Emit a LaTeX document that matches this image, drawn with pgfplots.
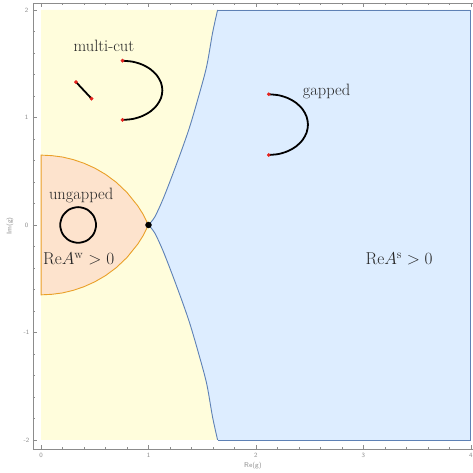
\documentclass[border=0pt]{standalone}
\usepackage{pgfplots}
\pgfplotsset{compat=1.18}
\definecolor{yfill}{RGB}{255,253,220}
\definecolor{bfill}{RGB}{221,237,255}
\definecolor{bedge}{RGB}{94,129,181}
\definecolor{ofill}{RGB}{253,227,205}
\definecolor{oedge}{RGB}{234,160,40}
\definecolor{axgray}{RGB}{140,140,140}
\definecolor{ptred}{RGB}{230,35,30}
\newcommand{\lbl}{\fontsize{16.5}{19}\selectfont}
\begin{document}
\begin{tikzpicture}
\begin{axis}[
  scale only axis, width=440bp, height=446bp,
  xmin=-0.075, xmax=4.02, ymin=-2.084, ymax=2.065,
  axis x line*=box, axis y line*=left,
  axis line style={axgray, line width=0.6pt},
  tick align=inside,
  xtick={0,1,2,3,4}, ytick={-2,-1,0,1,2},
  minor tick num=4,
  major tick length=4bp, minor tick length=2.5bp,
  every tick/.style={axgray, line width=0.5pt},
  xtick pos=both, ytick pos=left,
  /pgf/number format/assume math mode=true,
  ticklabel style={font=\fontsize{6.5}{7}\selectfont\sffamily, text=axgray},
  xticklabel pos=lower,
  xticklabel style={anchor=center, yshift=-6bp},
  yticklabel style={anchor=center, xshift=-6.5bp},
  xlabel={Re(g)}, ylabel={Im(g)},
  label style={font=\fontsize{7}{8}\selectfont\sffamily, text=axgray},
  xlabel style={at={(axis description cs:0.5,0)}, anchor=center, yshift=-17bp},
  ylabel style={at={(axis description cs:0,0.5)}, anchor=center, yshift=23bp},
  clip=false,
]
% background region
\addplot[fill=yfill, draw=none] coordinates {(0,-2) (4,-2) (4,2) (0,2)} \closedcycle;
% ungapped region Re A^w > 0
\addplot[fill=ofill, draw=oedge, line width=0.9pt] coordinates {
 (0,0.650) (0.1,0.645) (0.2,0.632) (0.3,0.608) (0.4,0.574) (0.5,0.529)
 (0.6,0.471) (0.7,0.397) (0.8,0.302) (0.9,0.178) (0.95,0.099) (1.0,0.0)
 (0.95,-0.099) (0.9,-0.178) (0.8,-0.302) (0.7,-0.397) (0.6,-0.471) (0.5,-0.529)
 (0.4,-0.574) (0.3,-0.608) (0.2,-0.632) (0.1,-0.645) (0,-0.650)} -- cycle;
% gapped region Re A^s > 0
\addplot[fill=bfill, draw=none] coordinates {
 (1.0,0) (1.058,0.074) (1.132,0.233) (1.216,0.447) (1.309,0.698) (1.383,0.912)
 (1.457,1.163) (1.54,1.47) (1.596,1.786) (1.643,2.0) (4,2) (4,-2)
 (1.643,-2.0) (1.596,-1.786) (1.54,-1.47) (1.457,-1.163) (1.383,-0.912)
 (1.309,-0.698) (1.216,-0.447) (1.132,-0.233) (1.058,-0.074)} -- cycle;
\addplot[bedge, line width=0.9pt, smooth] coordinates {
 (1.0,0) (1.058,0.074) (1.132,0.233) (1.216,0.447) (1.309,0.698) (1.383,0.912)
 (1.457,1.163) (1.54,1.47) (1.596,1.786) (1.643,2.0)};
\addplot[bedge, line width=0.9pt, smooth] coordinates {
 (1.0,0) (1.058,-0.074) (1.132,-0.233) (1.216,-0.447) (1.309,-0.698) (1.383,-0.912)
 (1.457,-1.163) (1.54,-1.47) (1.596,-1.786) (1.643,-2.0)};
\addplot[bedge, line width=0.9pt] coordinates {(1.643,2) (4,2) (4,-2) (1.643,-2)};
% critical point
\addplot[only marks, mark=*, mark size=3pt, black] coordinates {(1,0)};
% ungapped cut
\addplot[black, line width=1.8pt, smooth cycle] coordinates {
 (0.512,0) (0.4896,0.083) (0.4285,0.1438) (0.345,0.166) (0.2615,0.1438) (0.2004,0.083)
 (0.178,0) (0.2004,-0.083) (0.2615,-0.1438) (0.345,-0.166) (0.4285,-0.1438) (0.4896,-0.083)};
% multi-cut
\addplot[black, line width=1.8pt] coordinates {(0.325,1.330) (0.470,1.175)};
\addplot[black, line width=1.8pt, smooth] coordinates {
 (0.758,1.528) (0.854,1.5186) (0.9435,1.491) (1.0203,1.4473) (1.079,1.390) (1.1164,1.3238)
 (1.129,1.2525) (1.1164,1.1812) (1.079,1.115) (1.0203,1.0577) (0.9435,1.014) (0.854,0.9864)
 (0.758,0.977)};
% gapped cut
\addplot[black, line width=1.8pt, smooth] coordinates {
 (2.119,1.216) (2.2135,1.2064) (2.3015,1.1782) (2.3771,1.1333) (2.4351,1.0748) (2.4716,1.0066)
 (2.484,0.9335) (2.4716,0.8604) (2.4351,0.7923) (2.3771,0.7337) (2.3015,0.6889) (2.2135,0.6606)
 (2.119,0.651)};
% branch points
\addplot[only marks, mark=*, mark size=1.7pt, ptred] coordinates {
 (0.325,1.330) (0.470,1.175) (0.758,1.528) (0.758,0.977) (2.119,1.216) (2.119,0.651)};
% labels
\node[text=black!85, font=\lbl] at (axis cs:0.585,1.665) {multi-cut};
\node[text=black!85, font=\lbl] at (axis cs:2.657,1.245) {gapped};
\node[text=black!85, font=\lbl] at (axis cs:0.373,0.272) {ungapped};
\node[text=black!85, font=\lbl] at (axis cs:0.35,-0.317) {$\mathrm{Re}A^{\mathrm{w}}>0$};
\node[text=black!85, font=\lbl] at (axis cs:3.332,-0.319) {$\mathrm{Re}A^{\mathrm{s}}>0$};
\end{axis}
\pgfresetboundingbox
\useasboundingbox ([xshift=-33bp,yshift=-24bp]current axis.south west) rectangle ([yshift=3bp]current axis.north east);
\end{tikzpicture}
\end{document}
